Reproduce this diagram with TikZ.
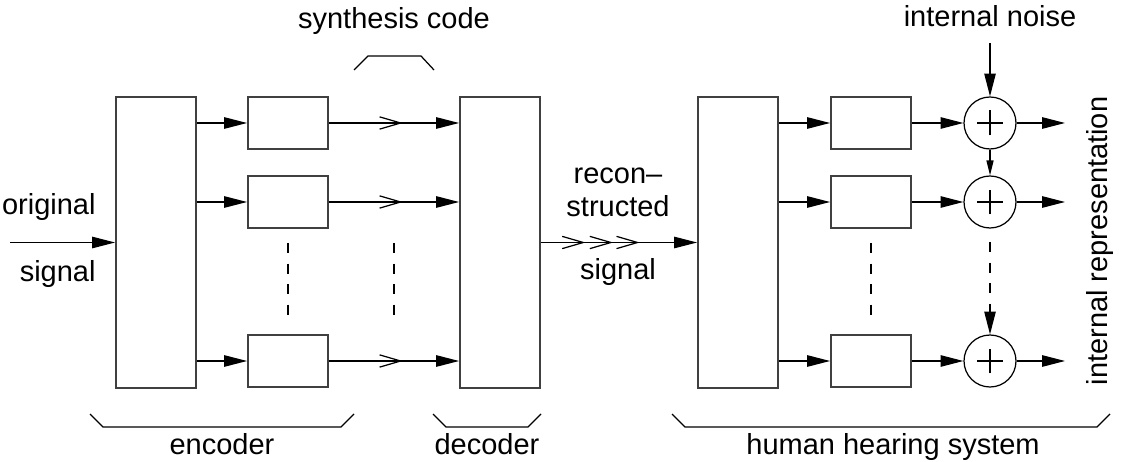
\documentclass[tikz,border=0pt]{standalone}
\usepackage{fontspec}
\setmainfont{Liberation Sans}
\usetikzlibrary{arrows.meta,decorations.markings}

\tikzset{
  block/.style={draw=black!75,line width=1.1pt,inner sep=0pt,minimum width=1.6cm,minimum height=1.04cm},
  stufe/.style={block,minimum height=5.82cm},
  summe/.style={draw,circle,inner sep=0pt,minimum size=1.04cm,
    path picture={\draw ([xshift=-0.26cm]path picture bounding box.center) -- ([xshift=0.26cm]path picture bounding box.center)
      ([yshift=-0.25cm]path picture bounding box.center) -- ([yshift=0.25cm]path picture bounding box.center);}},
  pfeil/.style={-{Triangle[length=13pt,width=6.5pt]}},
  kurz/.style={-{Triangle[length=8.5pt,width=4pt]}},
  offen/.style={postaction={decorate,decoration={markings,
    mark=at position #1 with {\arrow{Straight Barb[length=12pt,width=7pt]}}}}},
  strich/.style={dash pattern=on 5.7pt off 6pt}
}

\begin{document}
\begin{tikzpicture}[x=0.02cm,y=-0.02cm,line width=0.7pt,font=\fontsize{16.5}{20}\selectfont]
        \useasboundingbox (0,0) rectangle (1121,462);
        % Encoder
        \node[stufe] (enc) at (156,242.5) {};
        \node[block] (e1) at (288,123) {};
        \node[block] (e2) at (288,202) {};
        \node[block] (e3) at (288,361) {};
        \draw [strich] (288,243) -- (288,316);
        % Decoder
        \node[stufe] (dec) at (500,242.5) {};
        \draw [strich] (394,243) -- (394,316);
        % Gehoer
        \node[stufe] (ohr) at (738,242.5) {};
        \node[block] (h1) at (871,123) {};
        \node[block] (h2) at (871,202) {};
        \node[block] (h3) at (871,361) {};
        \draw [strich] (871,243) -- (871,316);
        \node[summe] (s1) at (990,123) {};
        \node[summe] (s2) at (990,202) {};
        \node[summe] (s3) at (990,361) {};
        % Pfeile
        \coordinate (ein) at (10,242.5);
        \draw [pfeil] (ein) -- (enc);
        \draw [pfeil] (enc.east |- e1) -- (e1);
        \draw [pfeil] (enc.east |- e2) -- (e2);
        \draw [pfeil] (enc.east |- e3) -- (e3);
        \draw [pfeil,offen=0.568] (e1) -- (dec.west |- e1);
        \draw [pfeil,offen=0.568] (e2) -- (dec.west |- e2);
        \draw [pfeil,offen=0.568] (e3) -- (dec.west |- e3);
        \draw [pfeil,offen=0.285,offen=0.462,offen=0.633] (dec) -- (ohr);
        \draw [pfeil] (ohr.east |- h1) -- (h1);
        \draw [pfeil] (ohr.east |- h2) -- (h2);
        \draw [pfeil] (ohr.east |- h3) -- (h3);
        \draw [pfeil] (h1) -- (s1);
        \draw [pfeil] (h2) -- (s2);
        \draw [pfeil] (h3) -- (s3);
        \coordinate (r0) at (990,43);
        \draw [pfeil] (r0) -- (s1);
        \draw [kurz] (s1) -- (s2);
        \coordinate (l1) at (990,242);
        \coordinate (l2) at (990,308);
        \draw [strich] (l1) -- (l2);
        \draw [pfeil] (l2) -- (s3);
        \coordinate (o1) at (1065,123);
        \coordinate (o2) at (1065,202);
        \coordinate (o3) at (1065,361);
        \draw [pfeil] (s1) -- (o1);
        \draw [pfeil] (s2) -- (o2);
        \draw [pfeil] (s3) -- (o3);
        % Klammern
        \draw (354,70) -- (368,56) -- (421,56) -- (434,70);
        \draw (90,414) -- (103,427) -- (341,427) -- (354,414);
        \draw (433,414) -- (446,427) -- (528,427) -- (541,414);
        \draw (672,414) -- (685,427) -- (1097,427) -- (1110,414);
        % Beschriftung
        \node[anchor=base] (code) at (394,29) {synthesis code};
        \node[anchor=base] (rausch) at (990,27) {internal noise};
        \node[anchor=base east] (orig) at (102,215) {original};
        \node[anchor=base east] (sig) at (102,281) {signal};
        \node[anchor=base] (rec1) at (618,184) {recon--};
        \node[anchor=base] (rec2) at (618,217) {structed};
        \node[anchor=base] (rec3) at (618,279) {signal};
        \node[rotate=90,anchor=base] (intrep) at (1107,241) {internal representation};
        \node[anchor=base] (tenc) at (222,454) {encoder};
        \node[anchor=base] (tdec) at (487,454) {decoder};
        \node[anchor=base] (tohr) at (893,454) {human hearing system};
\end{tikzpicture}
\end{document}
